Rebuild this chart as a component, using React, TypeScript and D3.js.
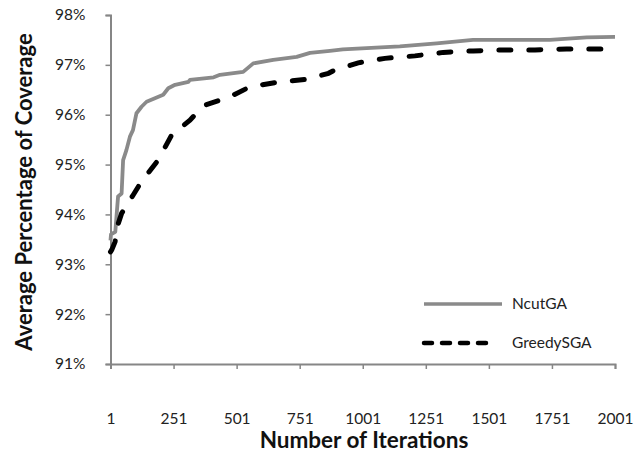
import React, { useEffect, useRef } from 'react';
import * as d3 from 'd3';

// iteration, coverage (%)
const ncutIter = [1, 3, 20, 31, 45, 51, 64, 78, 90, 104, 124, 144, 177, 210, 230, 257, 310, 316, 410, 435, 527, 567, 646, 739, 792, 871, 922, 1148, 1294, 1438, 1743, 1889, 2001];
const ncutVals = [93.48, 93.6, 93.65, 94.36, 94.42, 95.09, 95.29, 95.56, 95.69, 96.03, 96.16, 96.26, 96.33, 96.4, 96.53, 96.6, 96.66, 96.7, 96.75, 96.8, 96.86, 97.03, 97.1, 97.16, 97.24, 97.28, 97.31, 97.37, 97.43, 97.5, 97.5, 97.55, 97.56];

const greedyIter = [1, 6, 19, 32, 45, 91, 131, 150, 190, 243, 316, 369, 475, 554, 673, 779, 865, 884, 983, 1089, 1208, 1320, 1439, 1565, 1684, 1809, 1935, 2001];
const greedyVals = [93.25, 93.29, 93.45, 93.82, 94.02, 94.39, 94.72, 94.83, 95.09, 95.59, 95.89, 96.18, 96.36, 96.56, 96.66, 96.71, 96.83, 96.88, 97.04, 97.13, 97.18, 97.25, 97.28, 97.3, 97.3, 97.32, 97.32, 97.32];

const yTicks = [91, 92, 93, 94, 95, 96, 97, 98];
const xTicks = [1, 251, 501, 751, 1001, 1251, 1501, 1751, 2001];

const seriesNames = ['NcutGA', 'GreedySGA'];

const W = 635;
const H = 455;
const FONT = 'Lato, "Open Sans", sans-serif';

const App = () => {
  const svgRef = useRef<SVGSVGElement>(null);

  useEffect(() => {
    if (!svgRef.current) return;
    const svg = d3.select(svgRef.current);
    svg.selectAll('*').remove();

    const x = d3.scaleLinear().domain([1, 2001]).range([110.5, 615]);
    const y = d3.scaleLinear().domain([91, 98]).range([364, 15]);

    const axisColor = '#868686';

    // y axis
    svg.append('g')
      .attr('transform', `translate(${x.range()[0]},0)`)
      .call(d3.axisLeft(y).tickValues(yTicks).tickSize(5).tickPadding(20).tickFormat(d => `${d}%`))
      .call(g => g.select('.domain').attr('stroke', axisColor).attr('stroke-width', 2))
      .call(g => g.selectAll('.tick line').attr('stroke', axisColor).attr('stroke-width', 1.5))
      .call(g => g.selectAll('.tick text')
        .attr('fill', '#222')
        .style('font-family', FONT)
        .style('font-size', '15.5px'));

    // x axis
    svg.append('g')
      .attr('transform', `translate(0,${y.range()[0]})`)
      .call(d3.axisBottom(x).tickValues(xTicks).tickSize(5).tickPadding(44).tickFormat(d => `${d}`))
      .call(g => g.select('.domain').attr('stroke', axisColor).attr('stroke-width', 2))
      .call(g => g.selectAll('.tick line').attr('stroke', axisColor).attr('stroke-width', 1.5))
      .call(g => g.selectAll('.tick text')
        .attr('fill', '#222')
        .style('font-family', FONT)
        .style('font-size', '15.5px'));

    // titles
    svg.append('text')
      .attr('x', 364)
      .attr('y', 448)
      .attr('text-anchor', 'middle')
      .style('font-family', FONT)
      .style('font-size', '22.5px')
      .style('font-weight', 'bold')
      .attr('fill', '#111')
      .text('Number of Iterations');

    svg.append('text')
      .attr('transform', 'translate(32,192) rotate(-90)')
      .attr('text-anchor', 'middle')
      .style('font-family', FONT)
      .style('font-size', '22px')
      .style('font-weight', 'bold')
      .attr('fill', '#111')
      .text('Average Percentage of Coverage');

    const line = d3.line<[number, number]>()
      .x(d => x(d[0]))
      .y(d => y(d[1]));

    const ncut: [number, number][] = ncutIter.map((it, i) => [it, ncutVals[i]]);
    const greedy: [number, number][] = greedyIter.map((it, i) => [it, greedyVals[i]]);

    svg.append('path')
      .datum(ncut)
      .attr('fill', 'none')
      .attr('stroke', '#8a8a8a')
      .attr('stroke-width', 3.8)
      .attr('stroke-linejoin', 'round')
      .attr('d', line);

    svg.append('path')
      .datum(greedy)
      .attr('fill', 'none')
      .attr('stroke', '#000')
      .attr('stroke-width', 5)
      .attr('stroke-linecap', 'round')
      .attr('stroke-dasharray', '12,18')
      .attr('d', line);

    // legend
    const legend = svg.append('g');
    const legendRows = [
      { name: seriesNames[0], y: 304, stroke: '#8a8a8a', width: 3.5, dash: null, cap: 'butt' },
      { name: seriesNames[1], y: 343, stroke: '#000', width: 4.5, dash: '8,10', cap: 'round' },
    ];
    legendRows.forEach(r => {
      legend.append('line')
        .attr('x1', 424)
        .attr('x2', r.dash ? 496 : 502)
        .attr('y1', r.y)
        .attr('y2', r.y)
        .attr('stroke', r.stroke)
        .attr('stroke-width', r.width)
        .attr('stroke-linecap', r.cap)
        .attr('stroke-dasharray', r.dash);
      legend.append('text')
        .attr('x', 512)
        .attr('y', r.y)
        .attr('dy', '0.35em')
        .attr('fill', '#222')
        .style('font-family', FONT)
        .style('font-size', '15.5px')
        .text(r.name);
    });
  }, []);

  return (
    <svg
      ref={svgRef}
      width={W}
      height={H}
      viewBox={`0 0 ${W} ${H}`}
      style={{ position: 'absolute', left: 0, top: 0, background: '#fff' }}
    />
  );
};

export default App;
